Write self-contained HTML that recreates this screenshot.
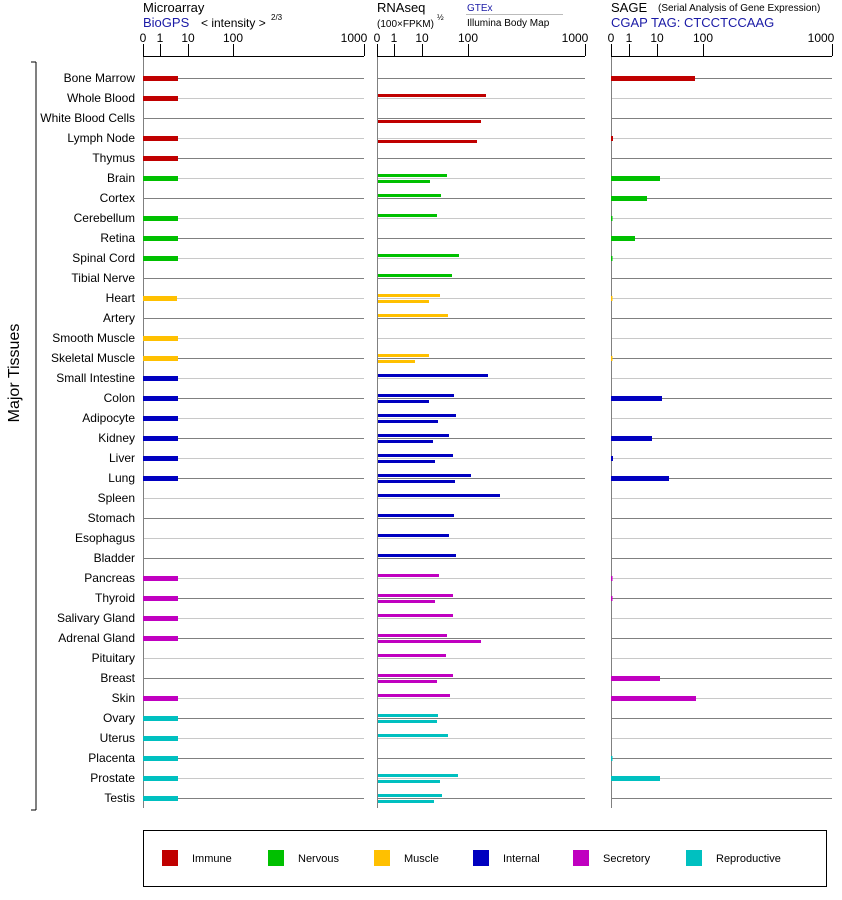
<!DOCTYPE html>
<html><head><meta charset="utf-8"><style>
body{margin:0;background:#fff;}
svg{display:block;font-family:"Liberation Sans",Arial,sans-serif;}
</style></head><body>
<svg width="842" height="900" viewBox="0 0 842 900" xmlns="http://www.w3.org/2000/svg">
<g id="grid"></g>
<g font-size="13" fill="#000">
<text x="143" y="12">Microarray</text>
<text x="143" y="27" fill="#1a1aa6">BioGPS</text>
<text x="201" y="27" font-size="12">&lt; intensity &gt;</text>
<text x="271" y="20" font-size="8">2/3</text>
<text x="377" y="12">RNAseq</text>
<text x="377" y="27" font-size="10">(100×FPKM)</text>
<text x="437" y="20" font-size="8">½</text>
<text x="467" y="11" font-size="10" fill="#1a1aa6">GTEx</text>
<line x1="466" y1="14.5" x2="563" y2="14.5" stroke="#bbb"/>
<text x="467" y="26" font-size="10">Illumina Body Map</text>
<text x="611" y="12">SAGE</text>
<text x="658" y="11" font-size="10">(Serial Analysis of Gene Expression)</text>
<text x="611" y="27" fill="#1a1aa6">CGAP TAG: CTCCTCCAAG</text>
</g>
<g font-size="12" text-anchor="end" fill="#000">
<text x="135" y="82">Bone Marrow</text><text x="135" y="102">Whole Blood</text><text x="135" y="122">White Blood Cells</text><text x="135" y="142">Lymph Node</text><text x="135" y="162">Thymus</text><text x="135" y="182">Brain</text><text x="135" y="202">Cortex</text><text x="135" y="222">Cerebellum</text><text x="135" y="242">Retina</text><text x="135" y="262">Spinal Cord</text><text x="135" y="282">Tibial Nerve</text><text x="135" y="302">Heart</text><text x="135" y="322">Artery</text><text x="135" y="342">Smooth Muscle</text><text x="135" y="362">Skeletal Muscle</text><text x="135" y="382">Small Intestine</text><text x="135" y="402">Colon</text><text x="135" y="422">Adipocyte</text><text x="135" y="442">Kidney</text><text x="135" y="462">Liver</text><text x="135" y="482">Lung</text><text x="135" y="502">Spleen</text><text x="135" y="522">Stomach</text><text x="135" y="542">Esophagus</text><text x="135" y="562">Bladder</text><text x="135" y="582">Pancreas</text><text x="135" y="602">Thyroid</text><text x="135" y="622">Salivary Gland</text><text x="135" y="642">Adrenal Gland</text><text x="135" y="662">Pituitary</text><text x="135" y="682">Breast</text><text x="135" y="702">Skin</text><text x="135" y="722">Ovary</text><text x="135" y="742">Uterus</text><text x="135" y="762">Placenta</text><text x="135" y="782">Prostate</text><text x="135" y="802">Testis</text>
</g>
<path d="M36 62H31M36 62V810M36 810H31" stroke="#000" fill="none"/>
<text x="19" y="373" font-size="16" text-anchor="middle" transform="rotate(-90 19 373)">Major Tissues</text>
<g id="bars"></g>
<rect x="143.5" y="830.5" width="683" height="56" fill="none" stroke="#000"/>
<g font-size="11">
<rect x="162" y="850" width="16" height="16" fill="#c00000"/><text x="192" y="862">Immune</text>
<rect x="268" y="850" width="16" height="16" fill="#00c000"/><text x="298" y="862">Nervous</text>
<rect x="374" y="850" width="16" height="16" fill="#ffc000"/><text x="404" y="862">Muscle</text>
<rect x="473" y="850" width="16" height="16" fill="#0000c0"/><text x="503" y="862">Internal</text>
<rect x="573" y="850" width="16" height="16" fill="#c000c0"/><text x="603" y="862">Secretory</text>
<rect x="686" y="850" width="16" height="16" fill="#00c0c0"/><text x="716" y="862">Reproductive</text>
</g>
<g font-size="12">
<text x="143" y="42" text-anchor="middle">0</text><text x="160" y="42" text-anchor="middle">1</text><text x="188" y="42" text-anchor="middle">10</text><text x="233" y="42" text-anchor="middle">100</text><text x="354" y="42" text-anchor="middle">1000</text>
<text x="377" y="42" text-anchor="middle">0</text><text x="394" y="42" text-anchor="middle">1</text><text x="422" y="42" text-anchor="middle">10</text><text x="468" y="42" text-anchor="middle">100</text><text x="575" y="42" text-anchor="middle">1000</text>
<text x="611" y="42" text-anchor="middle">0</text><text x="629" y="42" text-anchor="middle">1</text><text x="657" y="42" text-anchor="middle">10</text><text x="703" y="42" text-anchor="middle">100</text><text x="821" y="42" text-anchor="middle">1000</text>
</g>
</svg>
<script>
const NS="http://www.w3.org/2000/svg";
function el(p,t,a){const e=document.createElementNS(NS,t);for(const k in a)e.setAttribute(k,a[k]);document.getElementById(p).appendChild(e);}
const panels=[[143,364,[143,160,188,233,364]],[377,585,[377,394,422,468,585]],[611,832,[611,629,657,703,832]]];
for(const [a,b,t] of panels){
 for(let i=0;i<37;i++){const y=78+i*20+0.5;el('grid','line',{x1:a,x2:b,y1:y,y2:y,stroke:i%2?'#c8c8c8':'#808080'});}
 el('grid','line',{x1:a+0.5,x2:a+0.5,y1:56,y2:808,stroke:'#808080'});
 el('grid','line',{x1:a,x2:b,y1:56.5,y2:56.5,stroke:'#000'});
 for(const x of t)el('grid','line',{x1:x+0.5,x2:x+0.5,y1:44,y2:56,stroke:'#000'});
}
const C={I:'#c00000',N:'#00c000',M:'#ffc000',T:'#0000c0',S:'#c000c0',R:'#00c0c0'};
const rows=[['I',178,0,0,695],['I',178,486,0,0],['I',0,0,481,0],['I',178,0,477,613],['I',178,0,0,0],
['N',178,447,430,660],['N',0,441,0,647],['N',178,437,0,612.5],['N',178,0,0,635],['N',178,459,0,612.5],['N',0,452,0,0],
['M',177,440,429,612.5],['M',0,448,0,0],['M',178,0,0,0],['M',178,429,415,612.5],
['T',178,488,0,0],['T',178,454,429,662],['T',178,456,438,0],['T',178,449,433,652],['T',178,453,435,613],['T',178,471,455,669],['T',0,500,0,0],['T',0,454,0,0],['T',0,449,0,0],['T',0,456,0,0],
['S',178,439,0,612.5],['S',178,453,435,612.5],['S',178,453,0,0],['S',178,447,481,0],['S',0,446,0,0],['S',0,453,437,660],['S',178,450,0,696],
['R',178,438,437,0],['R',178,448,0,0],['R',178,0,0,612.5],['R',178,458,440,660],['R',178,442,434,0]];
rows.forEach((r,i)=>{const y=78+i*20,c=C[r[0]];
 if(r[1])el('bars','rect',{x:143,y:y-2,width:r[1]-143,height:5,fill:c});
 if(r[2])el('bars','rect',{x:378,y:y-4,width:r[2]-378,height:3,fill:c});
 if(r[3])el('bars','rect',{x:378,y:y+2,width:r[3]-378,height:3,fill:c});
 if(r[4])el('bars','rect',{x:611,y:y-2,width:r[4]-611,height:5,fill:c});
});
</script>
</body></html>
